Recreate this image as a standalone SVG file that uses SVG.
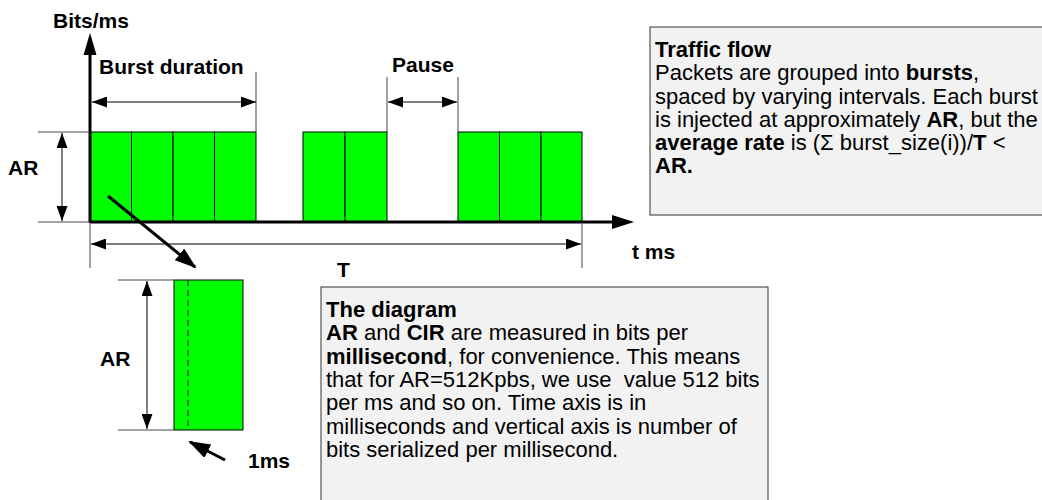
<svg xmlns="http://www.w3.org/2000/svg" width="1042" height="500" viewBox="0 0 1042 500">
<style>
  .lbl{font-family:"Liberation Sans",Arial,sans-serif;font-weight:bold;font-size:21px;fill:#000}
  .box{fill:#f2f2f2;stroke:#333;stroke-width:1}
  .bt{font-family:"Liberation Sans",Arial,sans-serif;font-size:22px;fill:#000}
  .b{font-weight:bold}
  .g{fill:#00ff00;stroke:#000;stroke-width:1}
  .ext{stroke:#444;stroke-width:1;fill:none}
  .dim{stroke:#000;stroke-width:1;fill:none;marker-start:url(#ah);marker-end:url(#ah)}
  .axis{stroke:#000;stroke-width:3;fill:none}
  .thick{stroke:#000;stroke-width:3;fill:none;marker-end:url(#big)}
</style>
<defs>
  <marker id="ah" markerUnits="userSpaceOnUse" markerWidth="15" markerHeight="11" refX="15" refY="5.5" orient="auto-start-reverse">
    <path d="M0,0 L15,5.5 L0,11 z" fill="#000"/>
  </marker>
  <marker id="big" markerUnits="userSpaceOnUse" markerWidth="22" markerHeight="15" refX="20" refY="7.5" orient="auto">
    <path d="M0,0 L22,7.5 L0,15 z" fill="#000"/>
  </marker>
</defs>
<rect width="1042" height="500" fill="#fff"/>

<g id="burst1">
  <rect class="g" x="90" y="132" width="41.5" height="90"/>
  <rect class="g" x="131.5" y="132" width="41.5" height="90"/>
  <rect class="g" x="173" y="132" width="41.5" height="90"/>
  <rect class="g" x="214.5" y="132" width="41.5" height="90"/>
</g>
<g id="burst2">
  <rect class="g" x="303" y="132" width="42" height="90"/>
  <rect class="g" x="345" y="132" width="42" height="90"/>
</g>
<g id="burst3">
  <rect class="g" x="458" y="132" width="41.5" height="90"/>
  <rect class="g" x="499.5" y="132" width="41.5" height="90"/>
  <rect class="g" x="541" y="132" width="41" height="90"/>
</g>
<g id="slot">
  <rect class="g" x="174" y="280" width="69" height="150" stroke="#444"/>
  <line x1="188" y1="280" x2="188" y2="430" stroke="#333" stroke-width="1.2" stroke-dasharray="6,4"/>
</g>

<g id="connectors">
  <!-- axes -->
  <line class="axis" x1="90" y1="223" x2="90" y2="52"/>
  <path d="M83.5,55 L90,33 L96.5,55 z" fill="#000"/>
  <line class="axis" x1="90" y1="222" x2="614" y2="222"/>
  <path d="M612,215 L634,222 L612,229 z" fill="#000"/>
  <!-- extension lines -->
  <line class="ext" x1="38" y1="132" x2="90" y2="132"/>
  <line class="ext" x1="38" y1="222" x2="90" y2="222"/>
  <line class="ext" x1="256" y1="72" x2="256" y2="132"/>
  <line class="ext" x1="387" y1="77" x2="387" y2="132"/>
  <line class="ext" x1="458" y1="77" x2="458" y2="132"/>
  <line class="ext" x1="90" y1="222" x2="90" y2="268"/>
  <line class="ext" x1="582" y1="222" x2="582" y2="268"/>
  <line class="ext" x1="118" y1="280" x2="174" y2="280"/>
  <line class="ext" x1="118" y1="430" x2="174" y2="430"/>
  <!-- dimension arrows -->
  <line class="dim" x1="92" y1="102" x2="256" y2="102"/>
  <line class="dim" x1="388" y1="102" x2="457" y2="102"/>
  <line class="dim" x1="62" y1="133" x2="62" y2="221"/>
  <line class="dim" x1="91" y1="244" x2="581" y2="244"/>
  <line class="dim" x1="147" y1="281" x2="147" y2="429"/>
  <!-- pointers -->
  <line class="thick" x1="108" y1="196" x2="195" y2="267"/>
  <line class="thick" x1="225" y1="460" x2="190" y2="442"/>
</g>

<g id="labels">
  <text class="lbl" x="53" y="28">Bits/ms</text>
  <text class="lbl" x="99" y="74">Burst duration</text>
  <text class="lbl" x="392" y="72">Pause</text>
  <text class="lbl" x="8" y="175">AR</text>
  <text class="lbl" x="632" y="259">t ms</text>
  <text class="lbl" x="337" y="277">T</text>
  <text class="lbl" x="100" y="366">AR</text>
  <text class="lbl" x="248" y="468">1ms</text>
</g>

<g id="traffic-flow">
  <rect class="box" x="650" y="27" width="400" height="188"/>
  <text class="bt" x="655" y="57"><tspan class="b">Traffic flow</tspan></text>
  <text class="bt" x="655" y="80">Packets are grouped into <tspan class="b">bursts</tspan>,</text>
  <text class="bt" x="655" y="104">spaced by varying intervals. Each burst</text>
  <text class="bt" x="655" y="127">is injected at approximately <tspan class="b">AR</tspan>, but the</text>
  <text class="bt" x="655" y="150"><tspan class="b">average rate</tspan> is (Σ burst_size(i))/<tspan class="b">T</tspan> &lt;</text>
  <text class="bt" x="655" y="173"><tspan class="b">AR.</tspan></text>
</g>

<g id="the-diagram">
  <rect class="box" x="321" y="287" width="447" height="220"/>
  <text class="bt" x="326" y="317"><tspan class="b">The diagram</tspan></text>
  <text class="bt" x="326" y="340"><tspan class="b">AR</tspan> and <tspan class="b">CIR</tspan> are measured in bits per</text>
  <text class="bt" x="326" y="364"><tspan class="b">millisecond</tspan>, for convenience. This means</text>
  <text class="bt" x="326" y="387" xml:space="preserve">that for AR=512Kpbs, we use  value 512 bits</text>
  <text class="bt" x="326" y="410">per ms and so on. Time axis is in</text>
  <text class="bt" x="326" y="434">milliseconds and vertical axis is number of</text>
  <text class="bt" x="326" y="457">bits serialized per millisecond.</text>
</g>
</svg>
